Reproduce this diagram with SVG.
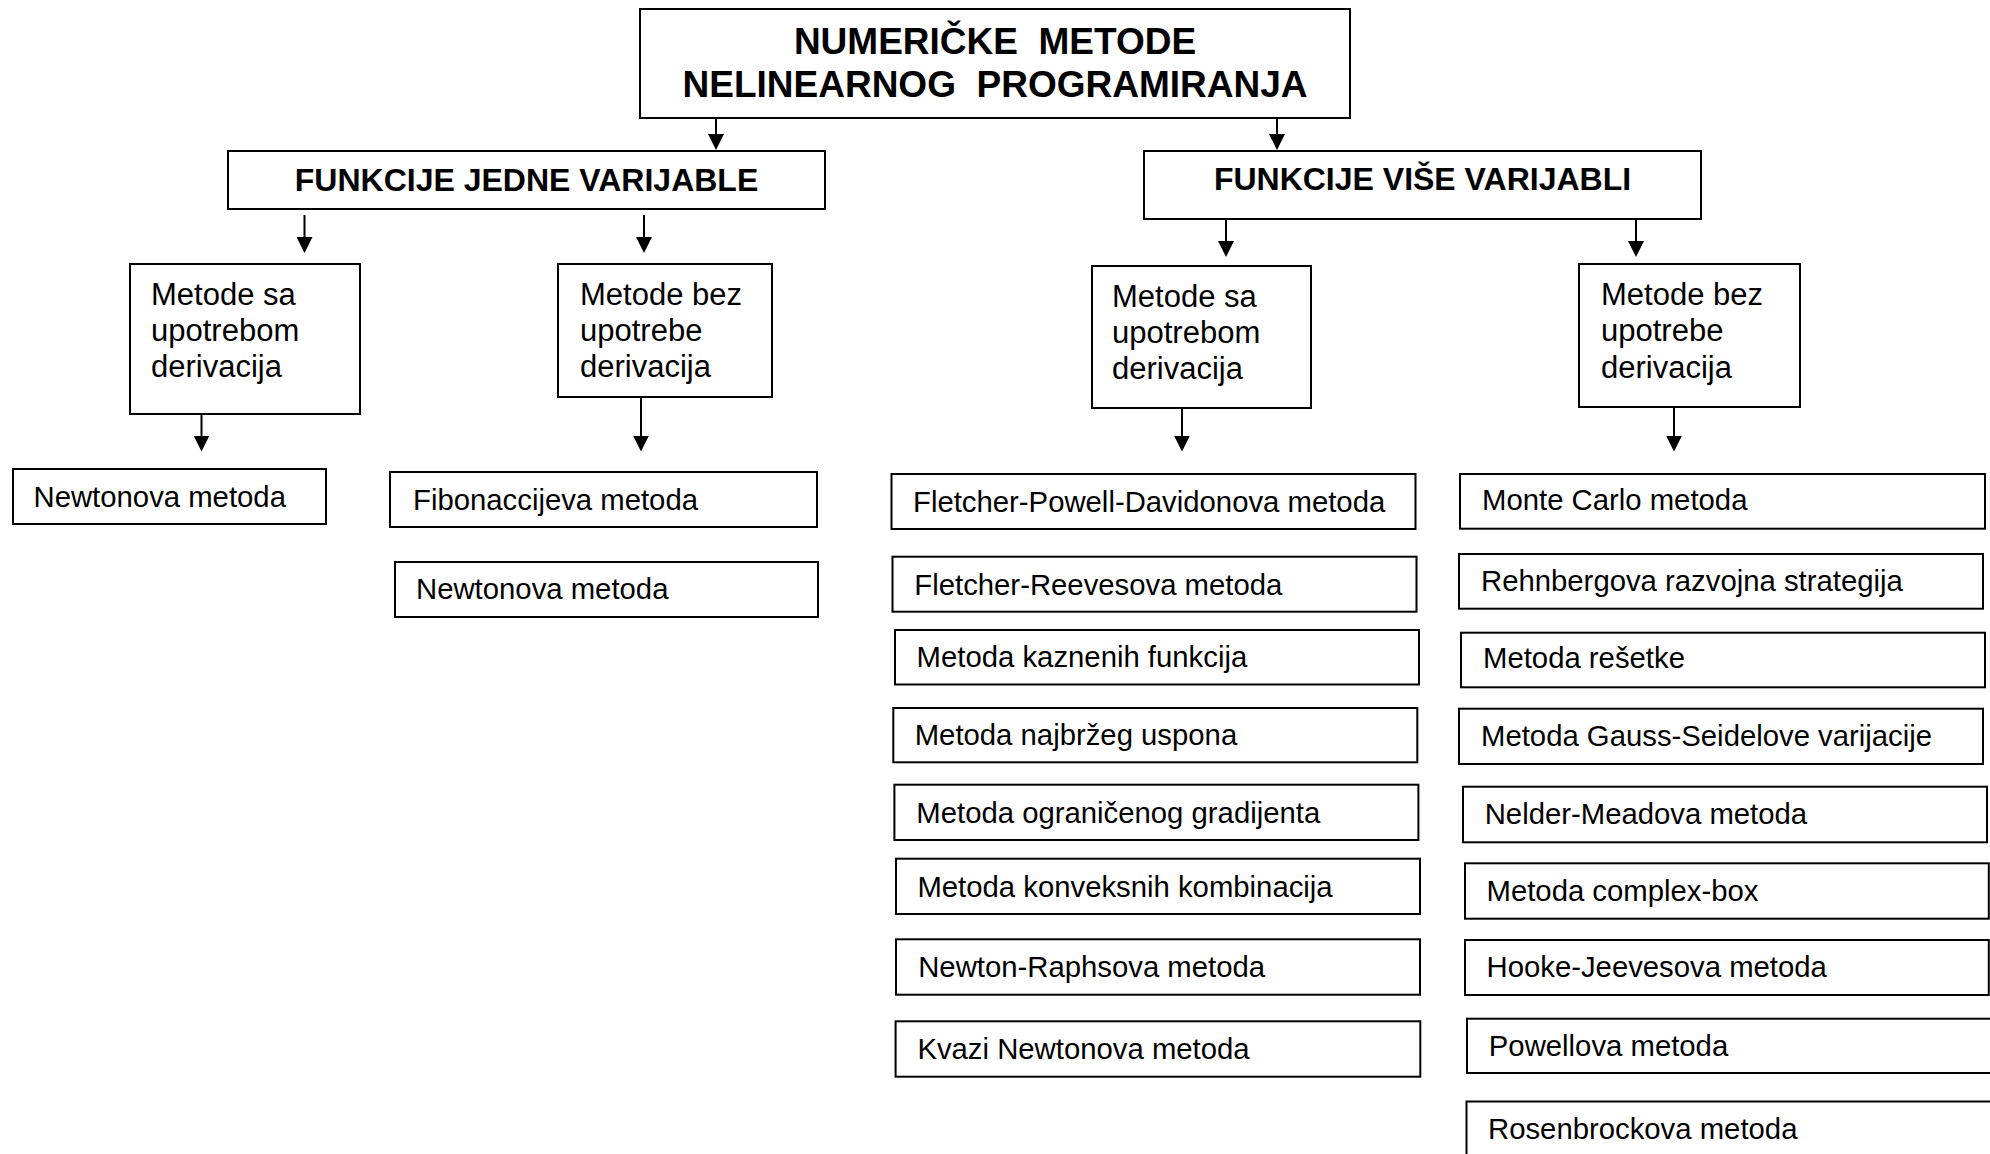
<svg xmlns="http://www.w3.org/2000/svg" width="1990" height="1154" viewBox="0 0 1990 1154">
<style>
.box{fill:#fff;stroke:#000;stroke-width:2}
.t{font-family:"Liberation Sans",Arial,sans-serif;fill:#000}
.h1{font-size:37px;font-weight:bold;text-anchor:middle}
.h2{font-size:32px;font-weight:bold;text-anchor:middle}
.m{font-size:31px}
.s{font-size:29.3px}
.c{stroke:#000;stroke-width:2;fill:none;marker-end:url(#ah)}
</style>
<defs>
<marker id="ah" markerUnits="userSpaceOnUse" markerWidth="16" markerHeight="16" refX="2" refY="8" orient="auto">
<path d="M0,0 L16,8 L0,16 z" fill="#000"/>
</marker>
</defs>
<rect width="1990" height="1154" fill="#fff"/>
<g id="connectors">
<line class="c" x1="716" y1="118" x2="716" y2="136"/>
<line class="c" x1="1277" y1="118" x2="1277" y2="136"/>
<line class="c" x1="304.5" y1="215" x2="304.5" y2="239"/>
<line class="c" x1="644" y1="215" x2="644" y2="239"/>
<line class="c" x1="1226" y1="219" x2="1226" y2="243"/>
<line class="c" x1="1636" y1="219" x2="1636" y2="243"/>
<line class="c" x1="201.5" y1="414" x2="201.5" y2="437.5"/>
<line class="c" x1="641" y1="397" x2="641" y2="437.5"/>
<line class="c" x1="1182" y1="407" x2="1182" y2="437.5"/>
<line class="c" x1="1674" y1="407" x2="1674" y2="437.5"/>
</g>
<g id="root"><rect class="box" x="640" y="9" width="710" height="109"/>
<text class="t h1" x="995" y="54" xml:space="preserve">NUMERIČKE  METODE</text>
<text class="t h1" x="995" y="97" xml:space="preserve">NELINEARNOG  PROGRAMIRANJA</text></g>
<g id="jedne"><rect class="box" x="228" y="151" width="597" height="58"/>
<text class="t h2" x="526.5" y="191">FUNKCIJE JEDNE VARIJABLE</text></g>
<g id="vise"><rect class="box" x="1144" y="151" width="557" height="68"/>
<text class="t h2" x="1422.5" y="190">FUNKCIJE VIŠE VARIJABLI</text></g>
<g id="jedne-sa"><rect class="box" x="130" y="264" width="230" height="150"/>
<text class="t m" x="151"><tspan x="151" y="305">Metode sa</tspan><tspan x="151" y="341">upotrebom</tspan><tspan x="151" y="377">derivacija</tspan></text></g>
<g id="jedne-bez"><rect class="box" x="558" y="264" width="214" height="133"/>
<text class="t m" x="580"><tspan x="580" y="305">Metode bez</tspan><tspan x="580" y="341">upotrebe</tspan><tspan x="580" y="377">derivacija</tspan></text></g>
<g id="vise-sa"><rect class="box" x="1092" y="266" width="219" height="142"/>
<text class="t m" x="1112"><tspan x="1112" y="306.5">Metode sa</tspan><tspan x="1112" y="343">upotrebom</tspan><tspan x="1112" y="379">derivacija</tspan></text></g>
<g id="vise-bez"><rect class="box" x="1579" y="264" width="221" height="143"/>
<text class="t m" x="1601"><tspan x="1601" y="304.5">Metode bez</tspan><tspan x="1601" y="341">upotrebe</tspan><tspan x="1601" y="377.5">derivacija</tspan></text></g>
<g id="n1"><rect class="box" x="13" y="469" width="313" height="55"/><text class="t s" x="33.5" y="507">Newtonova metoda</text></g>
<g id="n2"><rect class="box" x="390" y="472" width="427" height="55"/><text class="t s" x="413" y="510">Fibonaccijeva metoda</text></g>
<g id="n3"><rect class="box" x="395" y="562" width="423" height="55"/><text class="t s" x="416" y="599">Newtonova metoda</text></g>
<g id="n4"><rect class="box" x="891.5" y="474" width="524" height="55"/><text class="t s" x="913" y="511.7">Fletcher-Powell-Davidonova metoda</text></g>
<g id="n5"><rect class="box" x="892.5" y="556.7" width="524" height="55"/><text class="t s" x="914.3" y="595">Fletcher-Reevesova metoda</text></g>
<g id="n6"><rect class="box" x="895" y="630" width="524" height="54.5"/><text class="t s" x="916.6" y="667.3">Metoda kaznenih funkcija</text></g>
<g id="n7"><rect class="box" x="893.3" y="708" width="524" height="54.3"/><text class="t s" x="914.7" y="745">Metoda najbržeg uspona</text></g>
<g id="n8"><rect class="box" x="894.4" y="784.7" width="524" height="55.3"/><text class="t s" x="916.3" y="822.7">Metoda ograničenog gradijenta</text></g>
<g id="n9"><rect class="box" x="896" y="858.7" width="524" height="55.3"/><text class="t s" x="917.4" y="896.7">Metoda konveksnih kombinacija</text></g>
<g id="n10"><rect class="box" x="896" y="939.3" width="524" height="55.4"/><text class="t s" x="918.2" y="977.3">Newton-Raphsova metoda</text></g>
<g id="n11"><rect class="box" x="895.6" y="1021.3" width="524.7" height="55.4"/><text class="t s" x="917.4" y="1059.3">Kvazi Newtonova metoda</text></g>
<g id="n12"><rect class="box" x="1460" y="474" width="525" height="54.7"/><text class="t s" x="1482" y="510">Monte Carlo metoda</text></g>
<g id="n13"><rect class="box" x="1459" y="554" width="524" height="54.7"/><text class="t s" x="1481" y="590.7">Rehnbergova razvojna strategija</text></g>
<g id="n14"><rect class="box" x="1461" y="632.7" width="524" height="54.6"/><text class="t s" x="1483" y="668.3">Metoda rešetke</text></g>
<g id="n15"><rect class="box" x="1459" y="708.7" width="524" height="55.3"/><text class="t s" x="1481" y="746">Metoda Gauss-Seidelove varijacije</text></g>
<g id="n16"><rect class="box" x="1463" y="786.7" width="524" height="55.6"/><text class="t s" x="1484.7" y="824">Nelder-Meadova metoda</text></g>
<g id="n17"><rect class="box" x="1465" y="863.3" width="523.8" height="55.4"/><text class="t s" x="1486.5" y="900.7">Metoda complex-box</text></g>
<g id="n18"><rect class="box" x="1465" y="940" width="523.8" height="55"/><text class="t s" x="1486.5" y="976.7">Hooke-Jeevesova metoda</text></g>
<g id="n19"><rect class="box" x="1467" y="1018.7" width="530" height="54.3"/><text class="t s" x="1488.8" y="1055.7">Powellova metoda</text></g>
<g id="n20"><rect class="box" x="1466.5" y="1101.5" width="530" height="60"/><text class="t s" x="1488" y="1139">Rosenbrockova metoda</text></g>
</svg>
